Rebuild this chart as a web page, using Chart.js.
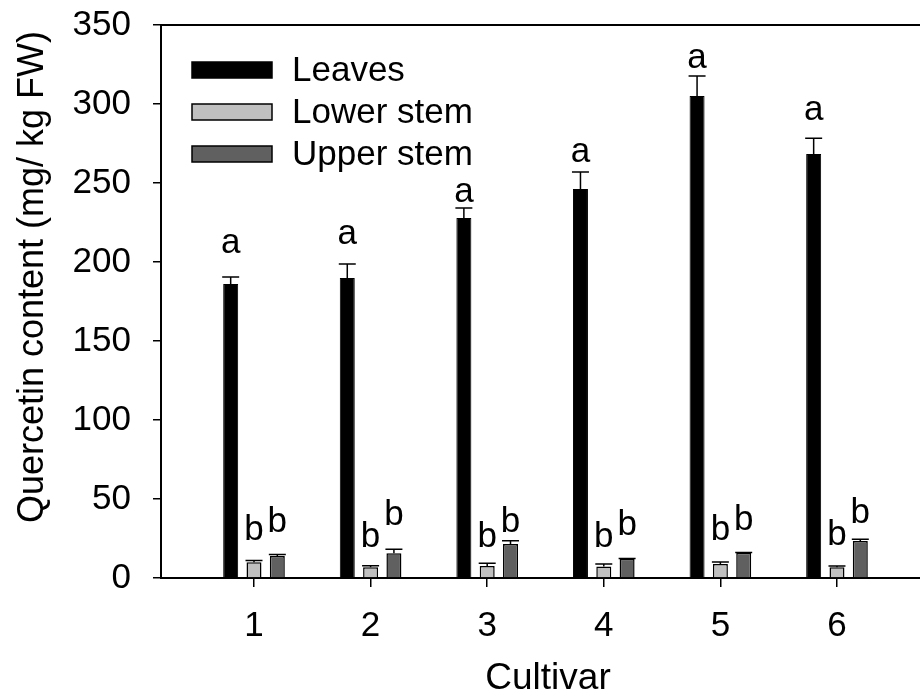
<!DOCTYPE html>
<html><head><meta charset="utf-8">
<script src="https://cdn.jsdelivr.net/npm/chart.js@4/dist/chart.umd.min.js"></script>
<style>html,body{margin:0;padding:0;background:#fff}#wrap{width:920px;height:693px}</style>
</head><body><div id="wrap"><canvas id="c" width="920" height="693"></canvas></div>
<script>
const cultivars = [1, 2, 3, 4, 5, 6];
const seriesNames = ['Leaves', 'Lower stem', 'Upper stem'];
const leaves = [186.1, 189.9, 227.8, 246.2, 305.0, 268.4];
const leavesErr = [4.4, 8.9, 6.3, 10.8, 12.7, 9.9];
const lowerStem = [9.9, 6.8, 7.6, 7.2, 8.9, 6.8];
const lowerStemErr = [1.1, 1.0, 1.7, 1.7, 1.2, 0.8];
const upperStem = [13.9, 15.6, 21.5, 12.0, 16.0, 23.4];
const upperStemErr = [0.9, 2.6, 2.1, 0.4, 0.2, 1.1];
const leavesLetters = ['a', 'a', 'a', 'a', 'a', 'a'];
const lowerLetters = ['b', 'b', 'b', 'b', 'b', 'b'];
const upperLetters = ['b', 'b', 'b', 'b', 'b', 'b'];
const leavesLetterAt = [205.7, 211.4, 238.0, 263.3, 322.8, 289.9];
const lowerLetterAt = [24.1, 19.8, 19.8, 19.8, 24.1, 20.9];
const upperLetterAt = [29.3, 33.5, 29.3, 27.2, 30.4, 34.6];
const yTicks = [0, 50, 100, 150, 200, 250, 300, 350];
const xTitle = 'Cultivar';
const yTitle = 'Quercetin content (mg/ kg FW)';

const FONT = "'Liberation Sans', Arial, Helvetica, sans-serif";
Chart.defaults.font.family = FONT;
Chart.defaults.color = '#000';

const toXY = arr => cultivars.map((c, i) => ({x: c, y: arr[i]}));

const datasets = [
  {label: seriesNames[0], data: toXY(leaves), backgroundColor: '#000000', borderColor: '#000000', borderWidth: 1,
   err: leavesErr, letters: leavesLetters, letterAt: leavesLetterAt},
  {label: seriesNames[1], data: toXY(lowerStem), backgroundColor: '#c0c0c0', borderColor: '#000000', borderWidth: 1.5,
   err: lowerStemErr, letters: lowerLetters, letterAt: lowerLetterAt},
  {label: seriesNames[2], data: toXY(upperStem), backgroundColor: '#606060', borderColor: '#000000', borderWidth: 1.5,
   err: upperStemErr, letters: upperLetters, letterAt: upperLetterAt}
];

const extras = {
  id: 'extras',
  afterDatasetsDraw(chart) {
    const ctx = chart.ctx, ys = chart.scales.y, area = chart.chartArea;
    ctx.save();
    // top frame line
    ctx.strokeStyle = '#000'; ctx.lineWidth = 2;
    ctx.beginPath(); ctx.moveTo(area.left - 1, area.top); ctx.lineTo(area.right + 2, area.top); ctx.stroke();
    // error bars and letters
    chart.data.datasets.forEach((ds, di) => {
      const meta = chart.getDatasetMeta(di);
      meta.data.forEach((bar, i) => {
        const v = ds.data[i].y;
        const yTop = ys.getPixelForValue(v);
        const yCap = ys.getPixelForValue(v + ds.err[i]);
        const half = bar.width / 2 + 1;
        ctx.strokeStyle = '#000'; ctx.lineWidth = 1.5;
        ctx.beginPath();
        ctx.moveTo(bar.x, yTop); ctx.lineTo(bar.x, yCap);
        ctx.moveTo(bar.x - half, yCap); ctx.lineTo(bar.x + half, yCap);
        ctx.stroke();
        ctx.fillStyle = '#000';
        ctx.font = '35px ' + FONT;
        ctx.textAlign = 'center'; ctx.textBaseline = 'alphabetic';
        ctx.fillText(ds.letters[i], bar.x, ys.getPixelForValue(ds.letterAt[i]));
      });
    });
    // legend
    const lx = area.left + 31, ly = area.top + 37, step = 42;
    chart.data.datasets.forEach((ds, di) => {
      const y = ly + di * step;
      ctx.fillStyle = ds.backgroundColor;
      ctx.fillRect(lx, y, 80, 16);
      ctx.strokeStyle = '#000'; ctx.lineWidth = 1.5;
      ctx.strokeRect(lx, y, 80, 16);
      ctx.fillStyle = '#000';
      ctx.font = '35px ' + FONT;
      ctx.textAlign = 'left'; ctx.textBaseline = 'middle';
      ctx.fillText(ds.label, lx + 100, y + 9);
    });
    // axis titles
    ctx.font = '37px ' + FONT;
    ctx.textAlign = 'center'; ctx.textBaseline = 'alphabetic';
    ctx.fillText(xTitle, 548, 689);
    ctx.translate(43, 277);
    ctx.rotate(-Math.PI / 2);
    ctx.font = '36px ' + FONT;
    ctx.fillText(yTitle, 0, 0);
    ctx.restore();
  }
};

new Chart(document.getElementById('c'), {
  type: 'bar',
  data: {datasets},
  options: {
    responsive: false,
    animation: false,
    devicePixelRatio: 1,
    layout: {padding: {top: 25, right: 0, left: 0, bottom: 0}},
    datasets: {bar: {categoryPercentage: 0.6, barPercentage: 0.643}},
    plugins: {legend: {display: false}, tooltip: {enabled: false}},
    scales: {
      x: {
        type: 'linear', min: 0.2024, max: 6.712, offset: false,
        afterBuildTicks: s => { s.ticks = cultivars.map(v => ({value: v})); },
        afterFit: s => { s.height = 115; s.paddingLeft = 0; s.paddingRight = 0; },
        grid: {offset: false, drawOnChartArea: false, drawTicks: true, tickLength: 9, color: '#000', lineWidth: 1.5},
        border: {color: '#000', width: 2},
        ticks: {font: {size: 35}, color: '#000', padding: 18, maxRotation: 0, autoSkip: false}
      },
      y: {
        min: 0, max: 350,
        afterBuildTicks: s => { s.ticks = yTicks.map(v => ({value: v})); },
        afterFit: s => { s.width = 161; s.paddingTop = 0; s.paddingBottom = 0; },
        grid: {drawOnChartArea: false, drawTicks: true, tickLength: 8, color: '#000', lineWidth: 1.5},
        border: {color: '#000', width: 2},
        ticks: {font: {size: 35}, color: '#000', padding: 22}
      }
    }
  },
  plugins: [extras]
});
</script>
</body></html>
